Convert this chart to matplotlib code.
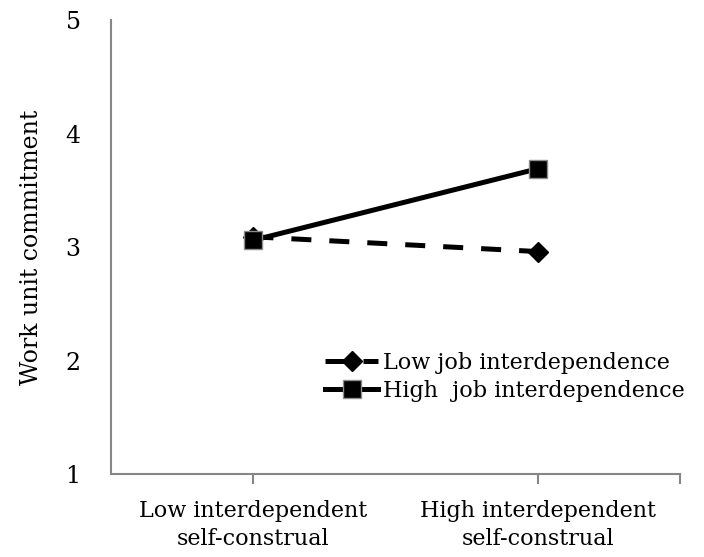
import matplotlib.pyplot as plt

# data
categories = ["Low interdependent\nself-construal", "High interdependent\nself-construal"]
low_job = [3.09, 2.96]
high_job = [3.06, 3.69]
series_labels = ["Low job interdependence", "High  job interdependence"]
y_ticks = [1, 2, 3, 4, 5]

plt.rcParams['font.family'] = ['DejaVu Serif']

fig = plt.figure(figsize=(7.04, 5.57), dpi=100)
ax = fig.add_axes([0.158, 0.149, 0.808, 0.815])

x = list(range(len(categories)))
ax.plot(x, low_job, color='black', lw=3.6, ls=(0, (4, 3.6)), marker='D',
        markersize=10, label=series_labels[0])
ax.plot(x, high_job, color='black', lw=3.6, marker='s', markersize=13,
        markeredgecolor='#8c8c8c', markeredgewidth=1, label=series_labels[1])

ax.set_xlim(-0.5, 1.5)
ax.set_ylim(1, 5)
ax.set_yticks(y_ticks)
ax.set_xticks(x + [1.5])
ax.set_xticklabels(categories + [""], linespacing=1.35)

for s in ['top', 'right']:
    ax.spines[s].set_visible(False)
for s in ['left', 'bottom']:
    ax.spines[s].set_color('#868686')
    ax.spines[s].set_linewidth(1.5)

ax.tick_params(axis='y', length=0, pad=22, labelsize=17)
ax.tick_params(axis='x', length=7, width=1.5, color='#868686', pad=12, labelsize=16)
ax.set_ylabel("Work unit commitment", fontsize=17, labelpad=16)

ax.legend(loc='lower right', bbox_to_anchor=(1.035, 0.125), frameon=False,
          fontsize=16, handlelength=2.4, handletextpad=0.2, labelspacing=0.25,
          borderpad=0.2)

fig.savefig("out.png", dpi=100)
